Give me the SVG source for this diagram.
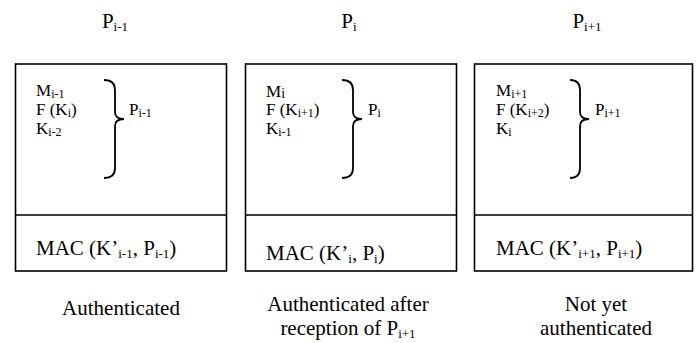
<svg xmlns="http://www.w3.org/2000/svg" width="698" height="343" viewBox="0 0 698 343" font-family="'Liberation Serif', 'Times New Roman', Times, serif">
<style>
  text { font-family: 'Liberation Serif', 'Times New Roman', Times, serif; font-size: 21px; fill: #000; }
  .lst { font-size: 17px; }
  .sub { font-size: 13px; }
  .lst .sub { font-size: 12px; }
  .box { fill: none; stroke: #000; stroke-width: 1.6; }
  .brace { fill: none; stroke: #000; stroke-width: 1.8; }
  .mid { text-anchor: middle; }
</style>
<rect width="698" height="343" fill="#fff"/>

<g id="packet-prev">
  <text x="115" y="28" class="mid">P<tspan class="sub" dy="3">i-1</tspan></text>
  <rect class="box" x="15.5" y="64" width="211" height="207"/>
  <line class="box" x1="15.5" y1="215" x2="226.5" y2="215"/>
  <text x="36" y="96" class="lst">M<tspan class="sub" dy="1.5">i-1</tspan></text>
  <text x="36" y="115" class="lst">F (K<tspan class="sub" dy="1.5">i</tspan><tspan dy="-1.5">)</tspan></text>
  <text x="36" y="134" class="lst">K<tspan class="sub" dy="1.5">i-2</tspan></text>
  <path class="brace" d="M104,80 Q115,80 115,90 L115,112 Q115,119 124,119 Q115,119 115,126 L115,168 Q115,178 104,178"/>
  <text x="129" y="115" class="lst">P<tspan class="sub" dy="2">i-1</tspan></text>
  <text x="36" y="255">MAC (K’<tspan class="sub" dy="3">i-1</tspan><tspan dy="-3">, P</tspan><tspan class="sub" dy="3">i-1</tspan><tspan dy="-3">)</tspan></text>
  <text x="121" y="315" class="mid">Authenticated</text>
</g>

<g id="packet-cur">
  <text x="349" y="28" class="mid">P<tspan class="sub" dy="3">i</tspan></text>
  <rect class="box" x="245.5" y="64" width="211" height="207"/>
  <line class="box" x1="245.5" y1="215" x2="456.5" y2="215"/>
  <text x="266" y="97" class="lst">M<tspan dy="0.5" style="font-size:14px">i</tspan></text>
  <text x="266" y="115" class="lst">F (K<tspan class="sub" dy="1.5">i+1</tspan><tspan dy="-1.5">)</tspan></text>
  <text x="266" y="134" class="lst">K<tspan class="sub" dy="1.5">i-1</tspan></text>
  <path class="brace" d="M342,80 Q353,80 353,90 L353,112 Q353,119 362,119 Q353,119 353,126 L353,168 Q353,178 342,178"/>
  <text x="368" y="115" class="lst">P<tspan class="sub" dy="2">i</tspan></text>
  <text x="266" y="260">MAC (K’<tspan class="sub" dy="3">i</tspan><tspan dy="-3">, P</tspan><tspan class="sub" dy="3">i</tspan><tspan dy="-3">)</tspan></text>
  <text x="348" y="311" class="mid">Authenticated after</text>
  <text x="348" y="335" class="mid">reception of P<tspan class="sub" dy="3">i+1</tspan></text>
</g>

<g id="packet-next">
  <text x="587" y="28" class="mid">P<tspan class="sub" dy="3">i+1</tspan></text>
  <rect class="box" x="474.5" y="64" width="218" height="207"/>
  <line class="box" x1="474.5" y1="215" x2="692.5" y2="215"/>
  <text x="496" y="96" class="lst">M<tspan class="sub" dy="1.5">i+1</tspan></text>
  <text x="496" y="115" class="lst">F (K<tspan class="sub" dy="1.5">i+2</tspan><tspan dy="-1.5">)</tspan></text>
  <text x="496" y="134" class="lst">K<tspan class="sub" dy="1.5">i</tspan></text>
  <path class="brace" d="M570,80 Q580,80 580,90 L580,112 Q580,119 589,119 Q580,119 580,126 L580,168 Q580,178 570,178"/>
  <text x="595" y="115" class="lst">P<tspan class="sub" dy="2">i+1</tspan></text>
  <text x="496" y="255">MAC (K’<tspan class="sub" dy="3">i+1</tspan><tspan dy="-3">, P</tspan><tspan class="sub" dy="3">i+1</tspan><tspan dy="-3">)</tspan></text>
  <text x="596" y="311" class="mid">Not yet</text>
  <text x="596" y="335" class="mid">authenticated</text>
</g>

<g id="connectors"></g>
</svg>
